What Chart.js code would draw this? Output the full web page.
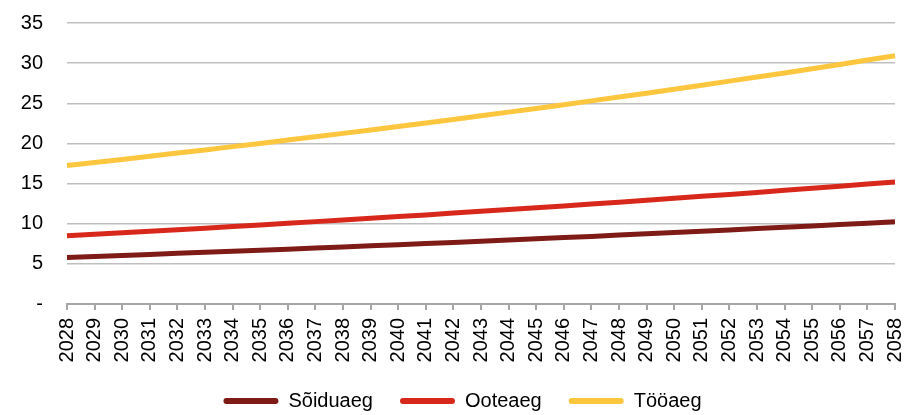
<!DOCTYPE html>
<html>
<head>
<meta charset="utf-8">
<script src="https://cdn.jsdelivr.net/npm/chart.js@4/dist/chart.umd.min.js"></script>
<style>
  html, body { margin: 0; padding: 0; background: #fff; }
  #wrap { width: 905px; height: 415px; }
</style>
</head>
<body>
<div id="wrap"><canvas id="chart" width="905" height="415"></canvas></div>
<script>
const years = ['2028', '2029', '2030', '2031', '2032', '2033', '2034', '2035', '2036', '2037',
    '2038', '2039', '2040', '2041', '2042', '2043', '2044', '2045', '2046', '2047',
    '2048', '2049', '2050', '2051', '2052', '2053', '2054', '2055', '2056', '2057', '2058'];

const soiduaeg = [5.80, 5.92, 6.05, 6.18, 6.31, 6.44, 6.57, 6.70, 6.83, 6.97,
    7.11, 7.25, 7.39, 7.53, 7.67, 7.82, 7.97, 8.12, 8.27, 8.42,
    8.58, 8.74, 8.90, 9.06, 9.22, 9.39, 9.56, 9.73, 9.90, 10.07, 10.25];

const ooteaeg = [8.50, 8.69, 8.87, 9.07, 9.26, 9.45, 9.65, 9.85, 10.05, 10.26,
    10.47, 10.67, 10.89, 11.10, 11.32, 11.54, 11.76, 11.99, 12.22, 12.45,
    12.68, 12.92, 13.16, 13.41, 13.65, 13.90, 14.16, 14.42, 14.68, 14.94, 15.21];

const tooaeg = [17.25, 17.63, 18.01, 18.40, 18.80, 19.19, 19.60, 20.00, 20.42, 20.83,
    21.25, 21.68, 22.11, 22.55, 22.99, 23.45, 23.90, 24.36, 24.83, 25.30,
    25.78, 26.26, 26.75, 27.25, 27.76, 28.27, 28.78, 29.31, 29.84, 30.38, 30.93];

const font = 'Liberation Sans, Arial, sans-serif';

function lineSet(label, data, color) {
    return {
        label,
        data,
        borderColor: color,
        backgroundColor: color,
        borderWidth: 5,
        pointRadius: 0,
        tension: 0,
        fill: false
    };
}

// nudge the legend a bit to the right, like the original
const legendShift = {
    id: 'legendShift',
    afterLayout(chart) {
        chart.legend.left += 15;
        chart.legend.right += 15;
    }
};

new Chart(document.getElementById('chart'), {
    type: 'line',
    data: {
        labels: years,
        datasets: [
            lineSet('Sõiduaeg', soiduaeg, '#7E1B17'),
            lineSet('Ooteaeg', ooteaeg, '#D8281B'),
            lineSet('Tööaeg', tooaeg, '#FCC73F')
        ]
    },
    plugins: [legendShift],
    options: {
        responsive: false,
        animation: false,
        layout: { padding: { left: 0, right: 10, top: 23, bottom: -6 } },
        plugins: {
            tooltip: { enabled: false },
            legend: {
                position: 'bottom',
                labels: {
                    color: '#000',
                    font: { family: font, size: 20 },
                    boxWidth: 55,
                    boxHeight: 6,
                    padding: 27,
                    generateLabels(chart) {
                        return chart.data.datasets.map((ds, i) => ({
                            text: ds.label,
                            fillStyle: ds.borderColor,
                            strokeStyle: ds.borderColor,
                            lineWidth: 0,
                            borderRadius: 3,
                            datasetIndex: i,
                            hidden: false
                        }));
                    }
                }
            }
        },
        scales: {
            x: {
                offset: false,
                afterFit(scale) {
                    scale.height = 60;
                    scale.paddingLeft = 0;
                    scale.paddingRight = 0;
                },
                border: { color: '#A6A6A6', width: 2 },
                grid: {
                    drawOnChartArea: false,
                    drawTicks: true,
                    tickLength: 6,
                    color: '#A6A6A6',
                    lineWidth: 2
                },
                ticks: {
                    autoSkip: false,
                    minRotation: 90,
                    maxRotation: 90,
                    padding: 8,
                    color: '#000',
                    font: { family: font, size: 20 }
                }
            },
            y: {
                min: 0,
                max: 35,
                afterFit(scale) {
                    scale.width = 67;
                    scale.paddingTop = 0;
                    scale.paddingBottom = 0;
                },
                border: { display: false },
                grid: {
                    drawTicks: false,
                    color: '#BFBFBF',
                    lineWidth: 1.5
                },
                ticks: {
                    stepSize: 5,
                    padding: 24,
                    color: '#000',
                    font: { family: font, size: 20 },
                    callback: v => v === 0 ? '-' : v
                }
            }
        }
    }
});
</script>
</body>
</html>
